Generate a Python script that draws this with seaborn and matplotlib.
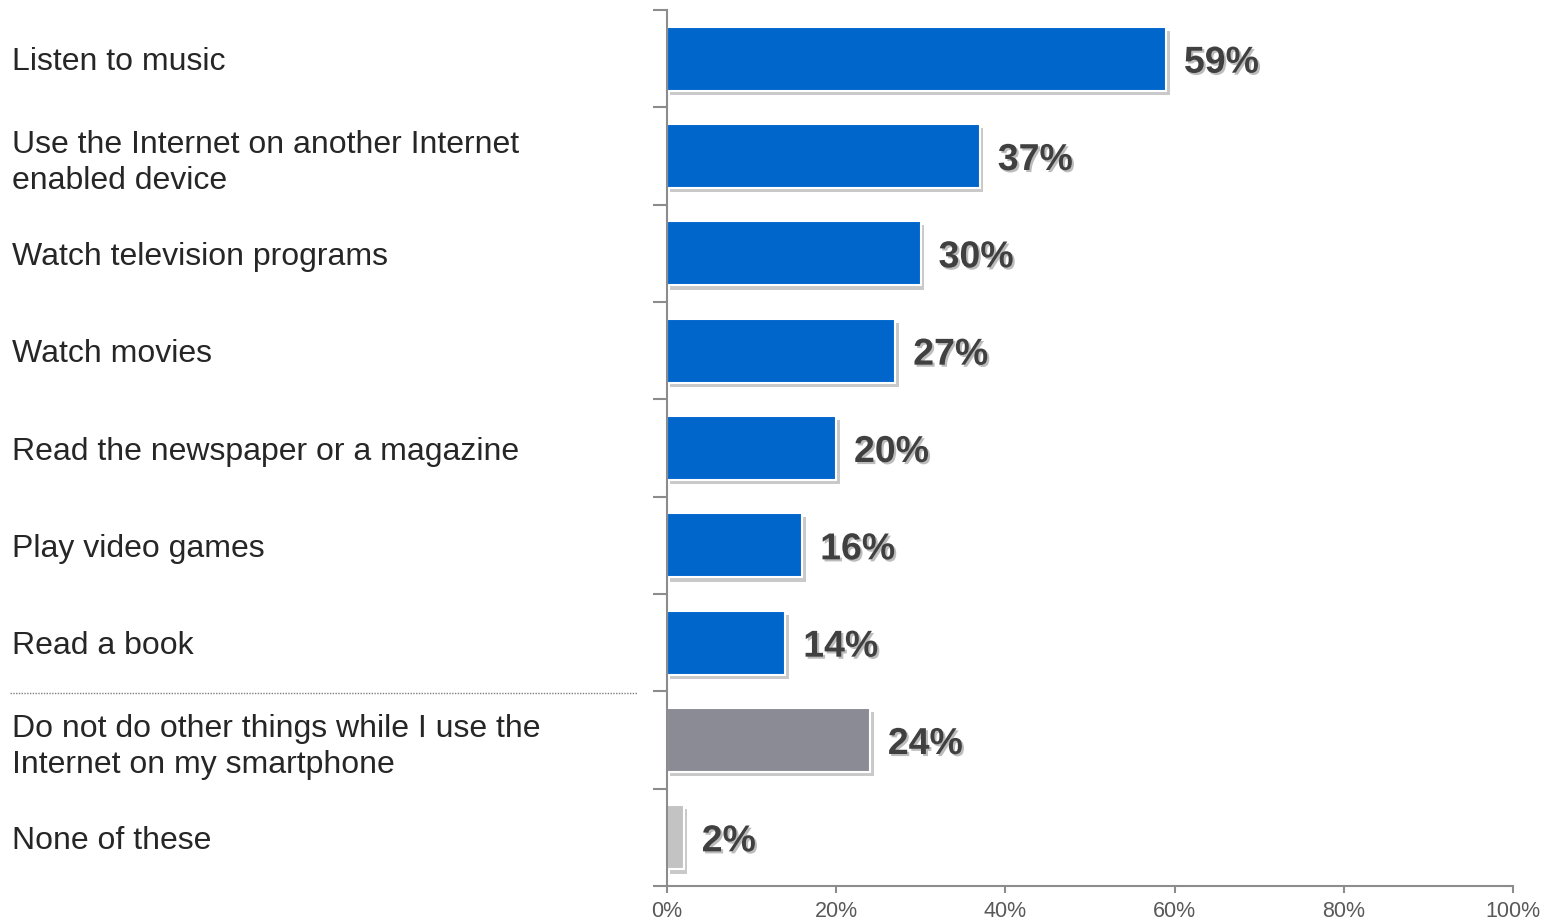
import numpy as np
import pandas as pd
import matplotlib
matplotlib.use("Agg")
import matplotlib.pyplot as plt
import matplotlib.patheffects as pe
from matplotlib.lines import Line2D
import seaborn as sns

categories = [
    "Listen to music",
    "Use the Internet on another Internet\nenabled device",
    "Watch television programs",
    "Watch movies",
    "Read the newspaper or a magazine",
    "Play video games",
    "Read a book",
    "Do not do other things while I use the\nInternet on my smartphone",
    "None of these",
]
values = [59, 37, 30, 27, 20, 16, 14, 24, 2]
bar_colors = ["#0066CC"] * 7 + ["#8B8B95", "#C3C3C3"]
x_ticks = [0, 20, 40, 60, 80, 100]
x_tick_labels = [f"{t}%" for t in x_ticks]

sns.set_theme(style="white")
plt.rcParams["font.family"] = ["Liberation Sans", "DejaVu Sans"]

df = pd.DataFrame({"activity": categories, "share": values})

fig = plt.figure(figsize=(15.46, 9.22), dpi=100)
ax = fig.add_axes([667 / 1546, 1 - 886 / 922, (1513 - 667) / 1546, (886 - 10) / 922])

sns.barplot(data=df, x="share", y="activity", hue="activity",
            palette=bar_colors, legend=False, width=0.66, orient="h",
            saturation=1, ax=ax)

shadow = [pe.SimplePatchShadow(offset=(2.5, -3), shadow_rgbFace="#4D4D4D", alpha=0.3),
          pe.Normal()]
for p in ax.patches:
    p.set_edgecolor("white")
    p.set_linewidth(1.5)
    p.set_path_effects(shadow)

ax.set_xlim(0, 100)
ax.set_ylim(8.5, -0.5)
ax.set_xlabel("")
ax.set_ylabel("")

# value labels
text_shadow = [pe.withSimplePatchShadow(offset=(1.5, -1.5), shadow_rgbFace="#7A7A7A", alpha=0.5)]
for i, v in enumerate(values):
    ax.text(v + 2.1, i, f"{v}%", va="center_baseline", ha="left", fontsize=27,
            fontweight="bold", color="#404040", path_effects=text_shadow)

# axes styling
for s in ["top", "right"]:
    ax.spines[s].set_visible(False)
for s in ["left", "bottom"]:
    ax.spines[s].set_color("#8C8C8C")
    ax.spines[s].set_linewidth(1.5)

ax.set_xticks(x_ticks)
ax.set_xticklabels(x_tick_labels, fontsize=15.5, color="#595959")
ax.tick_params(axis="x", direction="out", length=5, width=1.5, color="#8C8C8C", pad=6,
               bottom=True)

ax.set_yticks(range(len(categories)))
ax.set_yticklabels(categories, fontsize=23, color="#262626", ha="left",
                   linespacing=1.3)
ax.tick_params(axis="y", which="major", length=0, pad=655 * 0.72, left=True)
ax.set_yticks(np.arange(-0.5, len(categories), 1), minor=True)
ax.tick_params(axis="y", which="minor", direction="out", length=10, width=1.5,
               color="#8C8C8C", left=True)

# dotted separator between activities and the remaining answers
fig.add_artist(Line2D([10 / 1546, 637 / 1546], [1 - 693 / 922, 1 - 693 / 922],
                      transform=fig.transFigure, color="#7F7F7F", linewidth=1,
                      linestyle=(0, (1, 1))))

fig.savefig("out.png", dpi=100)
